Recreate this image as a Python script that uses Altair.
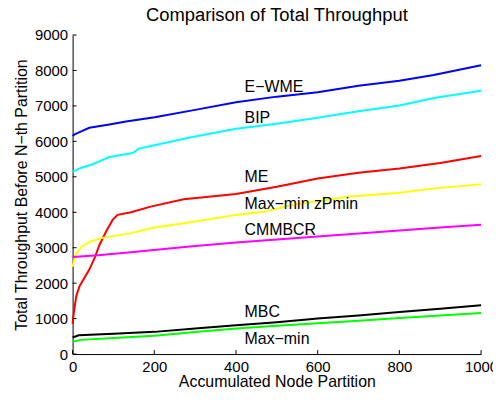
import altair as alt
import pandas as pd

FONT = "Liberation Sans"

# ---- series data ----
ewme_x = [0, 5, 17, 41, 90, 131, 201, 300, 400, 500, 600, 700, 800, 884, 1000]
ewme_y = [6150, 6200, 6262, 6385, 6477, 6561, 6680, 6889, 7103, 7262, 7384, 7571, 7711, 7870, 8150]

bip_x = [0, 20, 49, 90, 147, 162, 200, 293, 400, 500, 600, 700, 800, 884, 1000]
bip_y = [5140, 5250, 5356, 5561, 5673, 5796, 5888, 6122, 6356, 6497, 6664, 6850, 7010, 7226, 7430]

me_x = [0, 3, 9, 17, 29, 41, 54, 66, 82, 98, 110, 143, 191, 272, 400, 500, 600, 700, 800, 900, 1000]
me_y = [850, 1169, 1635, 1915, 2150, 2383, 2711, 3084, 3458, 3785, 3926, 4001, 4159, 4365, 4514, 4720, 4954, 5112, 5235, 5392, 5590]

zp_x = [0, 7, 22, 45, 70, 143, 200, 272, 300, 400, 471, 536, 674, 800, 884, 1000]
zp_y = [2459, 2804, 3037, 3177, 3271, 3412, 3570, 3692, 3738, 3926, 4019, 4206, 4439, 4550, 4674, 4787]

cm_x = [0, 62, 143, 224, 300, 400, 500, 600, 700, 800, 900, 1000]
cm_y = [2740, 2785, 2869, 2962, 3050, 3149, 3230, 3318, 3400, 3486, 3570, 3645]

mbc_x = [0, 15, 100, 200, 300, 400, 500, 600, 700, 800, 900, 1000]
mbc_y = [468, 530, 570, 626, 720, 813, 900, 1000, 1090, 1187, 1280, 1374]

mm_x = [0, 20, 100, 200, 300, 400, 500, 600, 700, 800, 900, 1000]
mm_y = [346, 400, 450, 514, 620, 720, 800, 869, 940, 1018, 1090, 1159]

series_names = ["E−WME", "BIP", "ME", "Max−min zPmin", "CMMBCR", "MBC", "Max−min"]
series_colors = ["#0000ff", "#00ffff", "#ff0000", "#ffff00", "#ff00ff", "#000000", "#00ff00"]
series_xy = [(ewme_x, ewme_y), (bip_x, bip_y), (me_x, me_y), (zp_x, zp_y),
             (cm_x, cm_y), (mbc_x, mbc_y), (mm_x, mm_y)]

# ---- in-plot labels ----
label_text = ["E−WME", "BIP", "ME", "Max−min zPmin", "CMMBCR", "MBC", "Max−min"]
label_x = [421, 421, 421, 421, 421, 421, 421]
label_y = [7543, 6654, 4983, 4226, 3486, 1197, 421]

x_ticks = [0, 200, 400, 600, 800, 1000]
y_ticks = [0, 1000, 2000, 3000, 4000, 5000, 6000, 7000, 8000, 9000]

rows = []
for name, (xs_, ys_) in zip(series_names, series_xy):
    for i, (a, b) in enumerate(zip(xs_, ys_)):
        rows.append({"series": name, "x": a, "y": b, "i": i})
df = pd.DataFrame(rows)
lab = pd.DataFrame({"t": label_text, "x": label_x, "y": label_y})
xt = pd.DataFrame({"x": x_ticks})
yt = pd.DataFrame({"y": y_ticks})

W, H = 411, 321
xs = alt.Scale(domain=[0, 1000], nice=False, zero=False)
ys = alt.Scale(domain=[0, 9000], nice=False, zero=False)

xaxis = alt.Axis(title="Accumulated Node Partition", values=x_ticks, ticks=False, format="d",
                 labelFlush=False, labelOverlap=False, labelPadding=6, grid=False,
                 titleX=W / 2, titleY=33, titleBaseline="alphabetic", titleAlign="center")
yaxis = alt.Axis(title="Total Throughput Before N−th Partition", values=y_ticks, ticks=False,
                 format="d", labelOverlap=False, labelPadding=5, grid=False, labelFlush=False,
                 titleX=-46, titleY=H / 2, titleBaseline="alphabetic", titleAlign="center",
                 titleAngle=-90)

lines = alt.Chart(df).mark_line(strokeWidth=2).encode(
    x=alt.X("x:Q", scale=xs, axis=xaxis),
    y=alt.Y("y:Q", scale=ys, axis=yaxis),
    color=alt.Color("series:N", scale=alt.Scale(domain=series_names, range=series_colors), legend=None),
    order="i:Q",
)

texts = alt.Chart(lab).mark_text(align="left", baseline="middle", fontSize=16, font=FONT, color="black").encode(
    x=alt.X("x:Q", scale=xs, axis=xaxis),
    y=alt.Y("y:Q", scale=ys, axis=yaxis),
    text="t:N",
)

xtick = alt.Chart(xt).mark_rule(color="black", strokeWidth=1).encode(
    x=alt.X("x:Q", scale=xs, axis=xaxis),
    y=alt.value(H),
    y2=alt.value(H - 4),
)
ytick = alt.Chart(yt).mark_rule(color="black", strokeWidth=1).encode(
    y=alt.Y("y:Q", scale=ys, axis=yaxis),
    x=alt.value(0),
    x2=alt.value(4),
)

chart = alt.layer(lines, xtick, ytick, texts).properties(
    width=W, height=H,
    title=alt.TitleParams("Comparison of Total Throughput", fontSize=18.5, font=FONT,
                          fontWeight="normal", anchor="middle", frame="group",
                          offset=4, color="black"),
    autosize=alt.AutoSizeParams(type="none"),
    padding={"left": 65, "top": 26, "right": 12, "bottom": 40},
).configure_view(stroke=None).configure_axis(
    domainColor="black", domainWidth=1, labelFont=FONT, titleFont=FONT,
    labelFontSize=15, titleFontSize=16, labelColor="black", titleColor="black",
    titleFontWeight="normal",
)

chart.save("out.html", embed_options={"renderer": "svg", "actions": False})
